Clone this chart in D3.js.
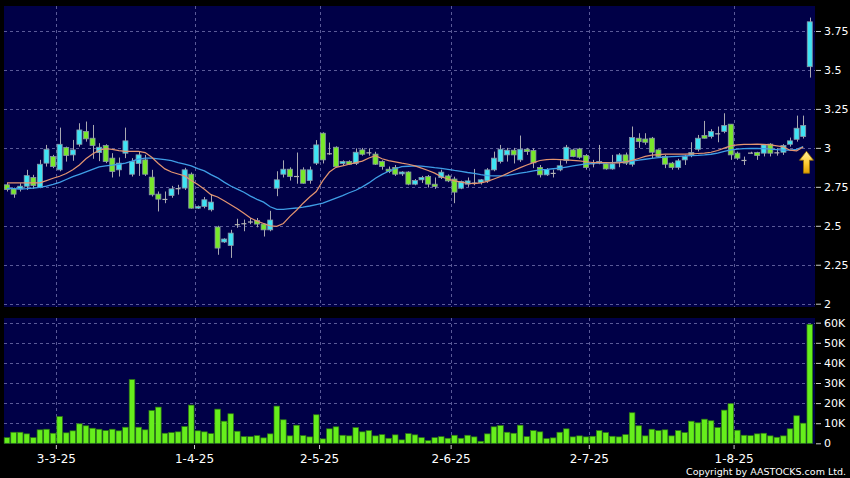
<!DOCTYPE html>
<html><head><meta charset="utf-8">
<script src="https://cdn.jsdelivr.net/npm/d3@7"></script>
<style>html,body{margin:0;padding:0;background:#000;}svg{display:block}</style>
</head><body><svg id="c" width="850" height="478"></svg>
<script>
// ---------- DATA ----------
const dates = [
"2025-02-19","2025-02-20","2025-02-21","2025-02-24","2025-02-25","2025-02-26","2025-02-27","2025-02-28",
"2025-03-03","2025-03-04","2025-03-05","2025-03-06","2025-03-07","2025-03-10","2025-03-11","2025-03-12","2025-03-13","2025-03-14",
"2025-03-17","2025-03-18","2025-03-19","2025-03-20","2025-03-21","2025-03-24","2025-03-25","2025-03-26","2025-03-27","2025-03-28","2025-03-31",
"2025-04-01","2025-04-02","2025-04-03","2025-04-07","2025-04-08","2025-04-09","2025-04-10","2025-04-11","2025-04-14","2025-04-15",
"2025-04-16","2025-04-17","2025-04-22","2025-04-23","2025-04-24","2025-04-25","2025-04-28","2025-04-29","2025-04-30",
"2025-05-02","2025-05-06","2025-05-07","2025-05-08","2025-05-09","2025-05-12","2025-05-13","2025-05-14","2025-05-15","2025-05-16",
"2025-05-19","2025-05-20","2025-05-21","2025-05-22","2025-05-23","2025-05-26","2025-05-27","2025-05-28","2025-05-29","2025-05-30",
"2025-06-02","2025-06-03","2025-06-04","2025-06-05","2025-06-06","2025-06-09","2025-06-10","2025-06-11","2025-06-12","2025-06-13",
"2025-06-16","2025-06-17","2025-06-18","2025-06-19","2025-06-20","2025-06-23","2025-06-24","2025-06-25","2025-06-26","2025-06-27","2025-06-30",
"2025-07-02","2025-07-03","2025-07-04","2025-07-07","2025-07-08","2025-07-09","2025-07-10","2025-07-11","2025-07-14","2025-07-15",
"2025-07-16","2025-07-17","2025-07-18","2025-07-21","2025-07-22","2025-07-23","2025-07-24","2025-07-25","2025-07-28","2025-07-29","2025-07-30","2025-07-31",
"2025-08-01","2025-08-04","2025-08-05","2025-08-06","2025-08-07","2025-08-08","2025-08-11","2025-08-12","2025-08-13","2025-08-14","2025-08-15","2025-08-18"
];
const open = [2.763,2.737,2.737,2.754,2.81,2.745,2.902,2.944,2.859,3.002,2.955,3.023,3.105,3.062,2.97,3.015,2.934,2.859,2.966,2.831,
2.90,2.923,2.812,2.703,2.673,2.694,2.742,2.742,2.831,2.613,2.624,2.603,2.492,2.396,2.374,2.511,2.517,2.528,2.534,2.511,
2.474,2.741,2.831,2.863,2.82,2.859,2.79,2.902,3.094,2.966,3.004,2.90,2.912,2.90,2.987,2.972,2.96,2.912,2.863,2.874,
2.833,2.845,2.767,2.795,2.816,2.767,2.81,2.82,2.80,2.741,2.767,2.778,2.778,2.788,2.859,2.912,2.955,2.985,2.923,2.991,
2.983,2.874,2.827,2.84,2.859,2.919,2.987,2.993,2.951,2.902,2.905,2.897,2.865,2.912,2.955,2.895,3.062,3.057,3.062,2.987,
2.944,2.902,2.874,2.923,2.955,2.991,3.079,3.073,3.094,3.105,3.152,2.966,2.923,2.97,2.97,2.966,3.024,2.972,2.972,3.023,
3.055,3.073,3.521];
const high = [2.775,2.745,2.773,2.859,2.827,2.923,3.019,2.955,3.13,3.008,3.051,3.158,3.169,3.147,3.03,3.023,2.966,2.938,3.13,2.934,
2.976,2.955,2.859,2.72,2.72,2.756,2.763,2.872,2.842,2.63,2.685,2.70,2.50,2.42,2.474,2.545,2.54,2.55,2.55,2.515,
2.596,2.85,2.92,2.875,2.97,2.875,2.88,3.05,3.10,3.034,3.01,2.92,2.92,2.997,3.0,2.997,2.975,2.92,2.88,2.89,
2.85,2.85,2.80,2.82,2.826,2.81,2.86,2.83,2.815,2.79,2.81,2.865,2.80,2.87,2.976,3.019,3.0,3.0,3.079,3.0,
2.997,2.89,2.87,2.86,2.92,3.019,2.995,3.0,2.96,2.923,3.019,2.90,2.955,2.966,2.97,3.137,3.094,3.094,3.07,2.99,
2.955,2.91,2.93,2.955,3.036,3.083,3.173,3.12,3.137,3.222,3.152,2.976,2.944,2.975,2.975,3.024,3.03,2.998,3.024,3.066,
3.207,3.207,3.836];
const low = [2.72,2.68,2.72,2.73,2.737,2.741,2.88,2.87,2.85,2.912,2.917,3.008,3.04,2.93,2.915,2.902,2.81,2.816,2.934,2.816,
2.82,2.82,2.688,2.592,2.645,2.68,2.70,2.73,2.61,2.608,2.612,2.592,2.314,2.39,2.294,2.487,2.465,2.51,2.49,2.431,
2.465,2.69,2.81,2.79,2.77,2.77,2.77,2.89,2.90,2.955,2.875,2.89,2.89,2.89,2.95,2.95,2.89,2.86,2.838,2.82,
2.82,2.76,2.76,2.775,2.745,2.737,2.80,2.78,2.645,2.735,2.75,2.76,2.765,2.775,2.85,2.90,2.912,2.90,2.91,2.955,
2.87,2.81,2.82,2.81,2.85,2.90,2.94,2.93,2.86,2.875,2.895,2.86,2.86,2.876,2.89,2.88,3.0,3.02,2.935,2.935,
2.87,2.86,2.86,2.89,2.94,2.977,3.06,3.06,3.036,3.094,2.923,2.923,2.89,2.965,2.923,2.945,2.945,2.95,2.955,3.008,
3.04,3.06,3.451];
const close = [2.733,2.703,2.754,2.822,2.758,2.895,2.991,2.88,3.023,2.951,2.987,3.115,3.058,3.015,3.004,2.912,2.848,2.902,3.045,2.912,
2.955,2.831,2.699,2.671,2.673,2.737,2.742,2.859,2.613,2.624,2.667,2.652,2.357,2.415,2.453,2.511,2.517,2.528,2.511,2.474,
2.537,2.795,2.863,2.816,2.82,2.773,2.859,3.019,2.923,2.966,2.88,2.912,2.895,2.972,2.959,2.972,2.895,2.88,2.848,2.831,
2.845,2.767,2.79,2.81,2.767,2.752,2.844,2.788,2.716,2.784,2.788,2.778,2.795,2.859,2.934,2.991,2.985,2.955,2.991,2.976,
2.904,2.827,2.861,2.84,2.885,3.004,2.944,2.94,2.874,2.902,2.912,2.865,2.897,2.955,2.902,3.066,3.04,3.036,2.972,2.944,
2.895,2.874,2.917,2.944,2.97,3.062,3.062,3.105,3.094,3.143,2.955,2.934,2.923,2.97,2.951,3.019,2.966,2.972,3.015,3.045,
3.126,3.143,3.809];
// volume in thousands of shares
const volumeK = [2.8,5.5,5.5,4.7,2.8,6.7,7.0,5.0,13.3,5.2,
6.2,9.7,8.7,7.5,7.0,6.3,7.0,6.2,8.0,31.7,
8.0,6.7,16.3,18.0,5.0,5.3,5.7,8.3,19.0,6.2,
5.7,4.8,17.0,11.0,14.7,6.0,3.3,3.3,3.8,2.7,
4.7,18.5,11.7,3.7,9.0,3.8,3.2,14.2,2.2,7.2,
8.2,4.0,3.7,7.8,5.7,6.3,3.7,4.3,2.5,4.2,
1.7,4.8,4.2,2.8,1.3,2.8,3.3,2.5,4.0,2.5,
4.0,3.2,1.0,4.7,8.2,8.8,5.5,5.0,9.0,3.3,
6.3,5.7,2.3,2.7,5.5,7.2,3.2,3.7,3.2,3.5,
6.3,5.3,3.5,3.2,4.3,15.2,8.7,3.7,7.0,6.3,
6.7,3.7,6.3,5.3,11.0,10.2,12.0,11.2,7.8,16.5,
19.7,6.5,4.0,3.8,4.7,5.0,3.7,3.0,3.7,7.2,
13.7,10.0,59.2];
// moving averages (orange = short, blue = long)
const maShort = [2.775,2.775,2.775,2.775,2.775,2.775,2.79,2.805,2.818,2.835,
2.86,2.89,2.93,2.96,2.985,2.995,2.99,2.982,2.978,2.978,
2.978,2.97,2.94,2.90,2.865,2.845,2.832,2.82,2.79,2.765,
2.735,2.70,2.685,2.66,2.635,2.61,2.58,2.55,2.53,2.515,
2.50,2.496,2.515,2.56,2.60,2.645,2.685,2.72,2.79,2.845,
2.875,2.885,2.895,2.905,2.915,2.935,2.95,2.93,2.918,2.91,
2.902,2.895,2.884,2.87,2.855,2.838,2.815,2.80,2.788,2.78,
2.773,2.77,2.775,2.785,2.80,2.816,2.835,2.855,2.873,2.89,
2.905,2.919,2.924,2.927,2.925,2.923,2.92,2.916,2.911,2.906,
2.905,2.905,2.904,2.904,2.91,2.92,2.932,2.945,2.953,2.957,
2.96,2.96,2.96,2.96,2.962,2.964,2.966,2.972,2.983,2.998,
3.013,3.019,3.022,3.023,3.024,3.023,3.019,3.013,3.006,2.985,
2.981,3.005];
const maLong = [2.74,2.738,2.736,2.738,2.742,2.746,2.755,2.765,2.778,2.797,
2.815,2.83,2.846,2.862,2.878,2.884,2.889,2.895,2.902,2.915,
2.928,2.934,2.934,2.93,2.925,2.918,2.905,2.895,2.884,2.867,
2.852,2.828,2.808,2.78,2.755,2.735,2.715,2.69,2.67,2.652,
2.622,2.605,2.605,2.61,2.614,2.62,2.627,2.636,2.645,2.662,
2.678,2.694,2.712,2.728,2.75,2.775,2.805,2.83,2.85,2.866,
2.88,2.882,2.884,2.883,2.878,2.873,2.869,2.862,2.855,2.849,
2.842,2.837,2.829,2.822,2.82,2.82,2.822,2.83,2.838,2.845,
2.853,2.859,2.862,2.866,2.87,2.877,2.884,2.891,2.897,2.902,
2.902,2.902,2.905,2.908,2.911,2.915,2.921,2.927,2.933,2.937,
2.941,2.944,2.946,2.948,2.95,2.952,2.955,2.959,2.966,2.977,
2.987,2.992,2.995,2.996,2.996,2.995,2.992,2.989,2.986,2.986,
2.99,3.008];
const priceTicks = [2,2.25,2.5,2.75,3,3.25,3.5,3.75];
const priceTickLabels = ["2","2.25","2.5","2.75","3","3.25","3.5","3.75"];
const volTicks = [0,10,20,30,40,50,60];
const volTickLabels = ["0","10K","20K","30K","40K","50K","60K"];
const dateTicks = ["2025-03-03","2025-04-01","2025-05-02","2025-06-02","2025-07-02","2025-08-01"];
const dateTickLabels = ["3-3-25","1-4-25","2-5-25","2-6-25","2-7-25","1-8-25"];
const arrowPrice = 2.985;

// ---------- STYLE ----------
const W = 850, H = 478;
const P = {left:4, right:815, pTop:6, pBot:307, vTop:318, vBot:444};
const navy = "#000047", grid = "#5a5a98";
const upCol = "#3ee4f4", dnCol = "#78e82a", flatCol = "#b4b4b4";
const bodyStroke = "#8a98a8", wickCol = "#a8a8b0";
const font = "DejaVu Sans, Verdana, sans-serif";

const svg = d3.select("#c");
svg.append("rect").attr("width",W).attr("height",H).attr("fill","#000");

const x = d3.scaleBand().domain(dates).range([3.71, 813.05]).paddingInner(0.24).paddingOuter(0.12);
const bw = x.bandwidth(), step = x.step();
const xc = d => x(d) + bw/2;
const yP = d3.scaleLinear().domain([2,3.75]).range([303.7,31]);
const yV = d3.scaleLinear().domain([0,60]).range([443.3,322.7]);

// panels
svg.append("rect").attr("x",P.left).attr("y",P.pTop).attr("width",P.right-P.left).attr("height",P.pBot-P.pTop).attr("fill",navy);
svg.append("rect").attr("x",P.left).attr("y",P.vTop).attr("width",P.right-P.left).attr("height",P.vBot-P.vTop).attr("fill",navy);

const g = svg.append("g");
// horizontal grid
g.selectAll(".hp").data(priceTicks).join("line")
  .attr("x1",P.left).attr("x2",P.right).attr("y1",d=>Math.round(yP(d))+0.5).attr("y2",d=>Math.round(yP(d))+0.5)
  .attr("stroke",grid).attr("stroke-dasharray","3,3");
g.selectAll(".hv").data(volTicks.filter(v=>v>0)).join("line")
  .attr("x1",P.left).attr("x2",P.right).attr("y1",d=>Math.round(yV(d))+0.5).attr("y2",d=>Math.round(yV(d))+0.5)
  .attr("stroke",grid).attr("stroke-dasharray","3,3");
// vertical grid at date boundaries
const gx = d => Math.round(xc(d) - step/2) + 0.5;
[[P.pTop,P.pBot],[P.vTop,P.vBot]].forEach(([a,b])=>{
  g.selectAll(null).data(dateTicks).join("line")
    .attr("x1",gx).attr("x2",gx).attr("y1",a).attr("y2",b)
    .attr("stroke",grid).attr("stroke-dasharray","3,3");
});

// candles
const idx = d3.range(dates.length);
const cg = svg.append("g");
cg.selectAll(".w").data(idx).join("line")
  .attr("x1",i=>Math.round(xc(dates[i]))+0.5).attr("x2",i=>Math.round(xc(dates[i]))+0.5)
  .attr("y1",i=>yP(high[i])).attr("y2",i=>yP(low[i]))
  .attr("stroke",wickCol).attr("stroke-width",1);
cg.selectAll(".b").data(idx).join("rect")
  .attr("x",i=>x(dates[i])).attr("width",bw)
  .attr("y",i=>yP(Math.max(open[i],close[i])))
  .attr("height",i=>Math.max(1.2, Math.abs(yP(open[i])-yP(close[i]))))
  .attr("fill",i=>close[i]>open[i]?upCol:(close[i]<open[i]?dnCol:flatCol))
  .attr("stroke",i=>close[i]===open[i]?"none":bodyStroke).attr("stroke-width",0.8);

// moving averages
const line = d3.line().x((v,i)=>xc(dates[i])).y(v=>yP(v));
svg.append("path").attr("d",line(maLong)).attr("fill","none").attr("stroke","#3f9ee6").attr("stroke-width",1.3);
svg.append("path").attr("d",line(maShort)).attr("fill","none").attr("stroke","#e39470").attr("stroke-width",1.2);

// arrow
const defs = svg.append("defs");
const lg = defs.append("linearGradient").attr("id","ag").attr("x1",0).attr("y1",0).attr("x2",0).attr("y2",1);
lg.append("stop").attr("offset","0%").attr("stop-color","#fff1a0");
lg.append("stop").attr("offset","55%").attr("stop-color","#ffcc33");
lg.append("stop").attr("offset","100%").attr("stop-color","#e0a000");
const ax = (xc(dates[121])+xc(dates[122]))/2, ay = yP(arrowPrice)+1;
svg.append("path")
  .attr("d",`M${ax},${ay} L${ax+7},${ay+9} L${ax+3},${ay+9} L${ax+3},${ay+22} L${ax-3},${ay+22} L${ax-3},${ay+9} L${ax-7},${ay+9} Z`)
  .attr("fill","url(#ag)").attr("stroke","#9a7000").attr("stroke-width",0.8);

// volume bars
svg.append("g").selectAll("rect").data(idx).join("rect")
  .attr("x",i=>x(dates[i])-0.3).attr("width",bw+0.6)
  .attr("y",i=>yV(volumeK[i])).attr("height",i=>yV(0)-yV(volumeK[i]))
  .attr("fill","#66ee1c").attr("stroke","#2e7a12").attr("stroke-width",0.7);

// axes
function styleAxis(size){
  return sel => {
    sel.select(".domain").remove();
    sel.selectAll(".tick line").attr("stroke","#cccccc");
    sel.selectAll(".tick text").attr("fill","#ffffff").style("font-family",font).style("font-size",size);
  };
}
svg.append("g").attr("transform",`translate(816,0)`)
  .call(d3.axisRight(yP).tickValues(priceTicks).tickSize(5).tickPadding(3).tickFormat((d,i)=>priceTickLabels[i]))
  .call(styleAxis("11px"));
svg.append("g").attr("transform",`translate(816,0)`)
  .call(d3.axisRight(yV).tickValues(volTicks).tickSize(5).tickPadding(3).tickFormat((d,i)=>volTickLabels[i]))
  .call(styleAxis("11px"));
svg.append("g").attr("transform",`translate(${-step/2},${P.vBot+1})`)
  .call(d3.axisBottom(x).tickValues(dateTicks).tickSize(4).tickPadding(5).tickFormat((d,i)=>dateTickLabels[i]))
  .call(styleAxis("12px"));

svg.append("text").attr("x",846).attr("y",475).attr("text-anchor","end")
  .attr("fill","#fff").style("font-family",font).style("font-size","9.5px")
  .text("Copyright by AASTOCKS.com Ltd.");
</script></body></html>
